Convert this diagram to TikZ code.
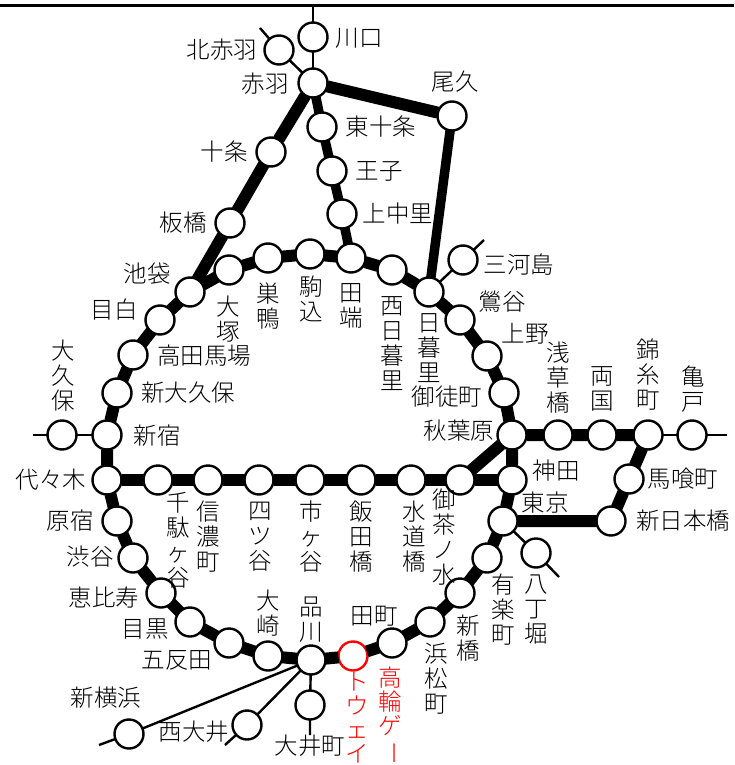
\documentclass[tikz,border=0pt]{standalone}
\usepackage{fontspec}
\setmainfont{Noto Sans CJK JP}[UprightFont=* Light]
\lineskiplimit=-50pt
\tikzset{
  stn/.style={circle,draw,fill=white,line width=2.4pt,minimum size=29pt,inner sep=0pt,outer sep=0pt},
  newstn/.style={stn,draw=red},
  lbl/.style={inner sep=0pt,align=center,font=\fontsize{23.5}{25}\selectfont},
  newlbl/.style={lbl,text=red,font=\fontsize{23.5}{24}\selectfont},
  heavy/.style={line width=12pt},
  medium/.style={line width=9.5pt},
  thin line/.style={line width=2.4pt}
}
\begin{document}
\begin{tikzpicture}[x=1pt,y=-1pt]
\useasboundingbox (0,0) rectangle (734,765);
\node[stn] (kawaguchi) at (313,37) {};
\node[stn] (kitaakabane) at (279,50) {};
\node[stn] (akabane) at (313,83) {};
\node[stn] (ogu) at (452,116) {};
\node[stn] (higashijujo) at (322,127) {};
\node[stn] (oji) at (332,171) {};
\node[stn] (kaminakazato) at (342,214) {};
\node[stn] (jujo) at (271,152) {};
\node[stn] (itabashi) at (230,223) {};
\node[stn] (ikebukuro) at (190,292) {};
\node[stn] (otsuka) at (229,270) {};
\node[stn] (sugamo) at (268,258) {};
\node[stn] (komagome) at (310,254) {};
\node[stn] (tabata) at (351,258) {};
\node[stn] (nishinippori) at (392,270) {};
\node[stn] (nippori) at (429,292) {};
\node[stn] (mikawashima) at (463,260) {};
\node[stn] (uguisudani) at (460,320) {};
\node[stn] (ueno) at (487,356) {};
\node[stn] (okachimachi) at (504,393) {};
\node[stn] (akihabara) at (512,435) {};
\node[stn] (asakusabashi) at (558,435) {};
\node[stn] (ryogoku) at (602,435) {};
\node[stn] (kinshicho) at (648,435) {};
\node[stn] (kameido) at (692,435) {};
\node[stn] (kanda) at (512,480) {};
\node[stn] (tokyo) at (503,521) {};
\node[stn] (bakurocho) at (629,479) {};
\node[stn] (shinnihonbashi) at (611,521) {};
\node[stn] (hatchobori) at (536,553) {};
\node[stn] (yurakucho) at (487,558) {};
\node[stn] (shimbashi) at (460,593) {};
\node[stn] (hamamatsucho) at (430,622) {};
\node[stn] (tamachi) at (392,643) {};
\node[newstn] (takanawa) at (353,656) {};
\node[stn] (shinagawa) at (311,660) {};
\node[stn] (osaki) at (268,656) {};
\node[stn] (gotanda) at (229,643) {};
\node[stn] (meguro) at (190,622) {};
\node[stn] (ebisu) at (161,593) {};
\node[stn] (shibuya) at (133,558) {};
\node[stn] (harajuku) at (117,521) {};
\node[stn] (yoyogi) at (107,480) {};
\node[stn] (shinjuku) at (107,435) {};
\node[stn] (okubo) at (62,435) {};
\node[stn] (shinokubo) at (117,393) {};
\node[stn] (takadanobaba) at (133,355) {};
\node[stn] (mejiro) at (160,320) {};
\node[stn] (ochanomizu) at (460,480) {};
\node[stn] (suidobashi) at (411,480) {};
\node[stn] (iidabashi) at (361,480) {};
\node[stn] (ichigaya) at (310,480) {};
\node[stn] (yotsuya) at (259,480) {};
\node[stn] (shinanomachi) at (208,480) {};
\node[stn] (sendagaya) at (158,480) {};
\node[stn] (shinyokohama) at (129,734) {};
\node[stn] (nishioi) at (247,725) {};
\node[stn] (oimachi) at (310,705) {};
\coordinate (topleft) at (0,5.5);
\coordinate (topright) at (734,5.5);
\coordinate (topline) at (313,5.5);
\coordinate (endkitaakabane) at (260,28);
\coordinate (endmikawashima) at (484,240);
\coordinate (endokubo) at (33,435);
\coordinate (endkameido) at (727,435);
\coordinate (endhatchobori) at (559,577);
\coordinate (endshinyokohama) at (99,745);
\coordinate (endnishioi) at (225,745);
\coordinate (endoimachi) at (310,735);
\draw[thin line] (topleft) -- (topright);
\draw[thin line] (topline) -- (kawaguchi) -- (akabane);
\draw[thin line] (endkitaakabane) -- (kitaakabane) -- (akabane);
\draw[thin line] (nippori) -- (mikawashima) -- (endmikawashima);
\draw[thin line] (endokubo) -- (okubo) -- (shinjuku);
\draw[thin line] (kinshicho) -- (kameido) -- (endkameido);
\draw[thin line] (tokyo) -- (hatchobori) -- (endhatchobori);
\draw[thin line] (shinagawa) -- (shinyokohama) -- (endshinyokohama);
\draw[thin line] (shinagawa) -- (nishioi) -- (endnishioi);
\draw[thin line] (shinagawa) -- (oimachi) -- (endoimachi);
\draw[medium] (akabane) -- (higashijujo) -- (oji) -- (kaminakazato) -- (tabata);
\draw[heavy] (akabane) -- (jujo) -- (itabashi) -- (ikebukuro);
\draw[heavy] (akabane) -- (ogu);
\draw[medium] (ogu) -- (nippori);
\draw[heavy] (ikebukuro) -- (otsuka) -- (sugamo) -- (komagome) -- (tabata) -- (nishinippori) -- (nippori) -- (uguisudani) -- (ueno) -- (okachimachi) -- (akihabara) -- (kanda) -- (tokyo) -- (yurakucho) -- (shimbashi) -- (hamamatsucho) -- (tamachi) -- (takanawa) -- (shinagawa) -- (osaki) -- (gotanda) -- (meguro) -- (ebisu) -- (shibuya) -- (harajuku) -- (yoyogi) -- (shinjuku) -- (shinokubo) -- (takadanobaba) -- (mejiro) -- (ikebukuro);
\draw[heavy] (yoyogi) -- (sendagaya) -- (shinanomachi) -- (yotsuya) -- (ichigaya) -- (iidabashi) -- (suidobashi) -- (ochanomizu) -- (kanda);
\draw[heavy] (ochanomizu) -- (akihabara) -- (asakusabashi) -- (ryogoku) -- (kinshicho) -- (bakurocho) -- (shinnihonbashi) -- (tokyo);
\node[lbl] (lkawaguchi) at (359,38) {川口};
\node[lbl] (lkitaakabane) at (222,50) {北赤羽};
\node[lbl] (lakabane) at (265,84) {赤羽};
\node[lbl] (logu) at (455,82) {尾久};
\node[lbl] (lhigashijujo) at (381,127) {東十条};
\node[lbl] (ljujo) at (224,152) {十条};
\node[lbl] (loji) at (379,171) {王子};
\node[lbl] (litabashi) at (183,223) {板橋};
\node[lbl] (lkaminakazato) at (398,214) {上中里};
\node[lbl] (likebukuro) at (147,274) {池袋};
\node[lbl] (lotsuka) at (228,319) {大\\塚};
\node[lbl] (lsugamo) at (268,306) {巣\\鴨};
\node[lbl] (lkomagome) at (311,299) {駒\\込};
\node[lbl] (ltabata) at (351,306) {田\\端};
\node[lbl] (lnishinippori) at (392,344) {西\\日\\暮\\里};
\node[lbl] (lnippori) at (429,348) {日\\暮\\里};
\node[lbl] (lmikawashima) at (519,265) {三河島};
\node[lbl] (luguisudani) at (502,302) {鶯谷};
\node[lbl] (lmejiro) at (114,310) {目白};
\node[lbl] (lueno) at (525,334) {上野};
\node[lbl] (ltakadanobaba) at (204,356) {高田馬場};
\node[lbl] (lasakusabashi) at (558,378) {浅\\草\\橋};
\node[lbl] (lryogoku) at (602,389) {両\\国};
\node[lbl] (lkinshicho) at (648,375) {錦\\糸\\町};
\node[lbl] (lkameido) at (693,389) {亀\\戸};
\node[lbl] (lshinokubo) at (188,393) {新大久保};
\node[lbl] (lokachimachi) at (447,397) {御徒町};
\node[lbl] (lokubo) at (63,376) {大\\久\\保};
\node[lbl] (lshinjuku) at (157,436) {新宿};
\node[lbl] (lakihabara) at (459,431) {秋葉原};
\node[lbl] (lyoyogi) at (51,480) {代々木};
\node[lbl] (lkanda) at (556,471) {神田};
\node[lbl] (lbakurocho) at (683,479) {馬喰町};
\node[lbl] (ltokyo) at (545,503) {東京};
\node[lbl] (lshinnihonbashi) at (683,521) {新日本橋};
\node[lbl] (lharajuku) at (70,521) {原宿};
\node[lbl] (lshibuya) at (90,557) {渋谷};
\node[lbl] (lebisu) at (104,598) {恵比寿};
\node[lbl] (lmeguro) at (145,629) {目黒};
\node[lbl] (lgotanda) at (177,660) {五反田};
\node[lbl] (lsendagaya) at (178,540) {千\\駄\\ヶ\\谷};
\node[lbl] (lshinanomachi) at (208,537) {信\\濃\\町};
\node[lbl] (lyotsuya) at (260,537) {四\\ツ\\谷};
\node[lbl] (lichigaya) at (311,537) {市\\ヶ\\谷};
\node[lbl] (liidabashi) at (361,537) {飯\\田\\橋};
\node[lbl] (lsuidobashi) at (414,537) {水\\道\\橋};
\node[lbl] (lochanomizu) at (444,537) {御\\茶\\ノ\\水};
\node[lbl] (lyurakucho) at (503,610) {有\\楽\\町};
\node[lbl] (lhatchobori) at (536,610) {八\\丁\\堀};
\node[lbl] (lshimbashi) at (468,638) {新\\橋};
\node[lbl] (lhamamatsucho) at (436,679) {浜\\松\\町};
\node[lbl] (ltamachi) at (374,616) {田町};
\node[lbl] (lshinagawa) at (311,620) {品\\川};
\node[lbl] (losaki) at (268,613) {大\\崎};
\node[newlbl] (ltakanawa) at (390,716) {高\\輪\\ゲ\\\rotatebox[origin=c]{-90}{ー}};
\node[newlbl] (lgateway) at (357,718) {ト\\ウ\\ェ\\イ};
\node[lbl] (lshinyokohama) at (106,698) {新横浜};
\node[lbl] (lnishioi) at (194,732) {西大井};
\node[lbl] (loimachi) at (310,746) {大井町};
\end{tikzpicture}
\end{document}
